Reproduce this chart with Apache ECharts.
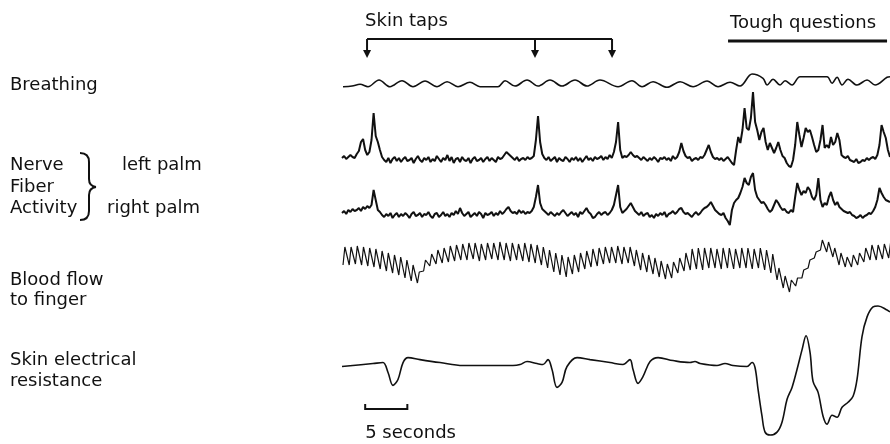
<!DOCTYPE html>
<html>
<head>
<meta charset="utf-8">
<script src="https://cdn.jsdelivr.net/npm/echarts@6/dist/echarts.min.js"></script>
<style>
html, body { margin: 0; padding: 0; background: #fff; }
#main { width: 890px; height: 444px; }
</style>
</head>
<body>
<div id="main"></div>
<script>
// time axis in seconds, traces in arbitrary units
var duration = 65;

// breathing: turning points [s], amplitude
var breathT = [0.12, 1.19, 2.14, 3.08, 4.39, 5.69, 7.12, 8.42, 9.85, 11.27, 12.46, 13.76, 15.18, 16.37, 18.51, 19.34,
  20.52, 21.95, 23.25, 24.67, 26.1, 27.64, 29.06, 30.6, 32.74, 34.4, 35.59, 36.89, 38.55, 40.1, 41.64, 43.3, 44.6,
  46.03, 47.21, 48.64, 49.94, 50.42, 51.13, 51.96, 52.55, 53.38, 54.33, 57.53, 58.13, 58.72, 59.31, 60.02, 61.09,
  62.28, 63.23, 64.65, 65];
var breathV = [0.3, 1, 2.7, 0.3, 7, 0.3, 6.3, 0.3, 6, 0.3, 5.3, 0.3, 4.7, 0.3, 0.3, 6.3,
  1, 7, 1, 7, 1, 7, 1, 7, 0.3, 6.3, 0.3, 5.3, -0.3, 5.3, 0.3, 6, 0.3,
  4.7, 1, 13, 8.7, 2, 7.7, 2, 6.3, 2, 10.3, 10.3, 3.7, 9.7, 2, 7.7, 2,
  7, 2, 9.7, 10.3];

// nerve fiber activity, sampled every 0.25 s
var nerveStep = 0.25;
var leftPalm = [
  2, 4, 1, 3, 5, 3, 2, 6, 9, 18,
  21, 10, 5, 8, 20, 47, 24, 18, 10, 3,
  0, -2, 2, -3, 1, 3, -1, 2, -2, 1,
  3, -1, 0, 2, -3, 1, 4, 0, -2, 2,
  0, 3, -2, 1, -1, 4, 1, -2, 2, 0,
  5, -1, 3, -3, 1, 2, -2, 3, 0, -1,
  2, -3, 1, 3, -1, 0, 2, -2, 1, 3,
  -1, 2, 0, -2, 3, 1, 2, 5, 8, 6,
  4, 2, 0, 3, -1, 1, 2, 0, 3, 1,
  2, 4, 20, 44, 18, 6, 2, 0, 3, -1,
  1, 3, -2, 2, 0, -1, 3, 1, -2, 2,
  0, 3, -1, 2, -2, 1, 4, 0, 2, -1,
  3, 1, 2, 4, 0, 3, 1, 5, 2, 8,
  18, 38, 10, 2, 4, 3, 5, 8, 5, 3,
  4, 2, 0, 3, 1, -1, 2, 0, 3, 1,
  -2, 2, 1, 3, 0, 2, -1, 4, 1, 3,
  8, 17, 9, 4, 2, 3, -1, 1, 2, 0,
  3, 2, 5, 10, 15, 8, 3, 1, 2, 0,
  2, -1, 1, 3, 0, -3, -5, 10, 23, 17,
  30, 52, 32, 30, 42, 68, 38, 30, 20, 28,
  32, 18, 10, 17, 12, 7, 12, 18, 10, 4,
  2, -3, -6, -7, 0, 15, 38, 25, 13, 22,
  32, 28, 30, 23, 15, 8, 10, 20, 35, 12,
  15, 12, 23, 15, 18, 27, 20, 5, 3, 2,
  4, 0, -1, -2, 1, -3, -2, 0, -1, 2,
  0, 2, 3, 1, 5, 15, 35, 28, 22, 10,
  3];
var rightPalm = [
  2, 4, 1, 5, 3, 6, 4, 5, 7, 4,
  8, 6, 9, 7, 10, 25, 15, 5, 3, 0,
  -2, 1, -1, 2, -3, 0, 2, -2, 1, -1,
  2, 0, -3, 1, 3, -1, 0, 2, -2, 1,
  0, 3, -1, -3, 1, 2, -2, 0, 3, -1,
  1, -2, 2, 0, 4, 1, 7, 2, -1, 1,
  3, -2, 0, 2, -1, 3, 1, -3, 2, 0,
  1, 3, -1, 2, 0, 4, 1, 3, 6, 8,
  4, 2, 3, 1, 5, 2, 4, 1, 3, 2,
  4, 8, 18, 30, 12, 6, 4, 2, 0, 3,
  1, -1, 2, 0, 3, 5, 2, -1, 1, 3,
  0, 2, -2, 3, 1, 4, 7, 3, 1, -3,
  -2, 1, 3, 0, 2, 3, 0, 2, 5, 10,
  20, 30, 8, 2, 4, 6, 9, 12, 8, 4,
  2, 0, 3, -1, 1, 2, -2, 0, -3, 1,
  -1, 2, 0, 3, -2, 1, 2, 4, 1, 3,
  6, 7, 3, 1, 2, 0, -2, 1, 3, 0,
  2, 5, 7, 8, 10, 13, 9, 5, 3, 1,
  0, 2, -3, -6, -10, 5, 12, 15, 17, 22,
  28, 37, 32, 30, 38, 42, 25, 18, 15, 12,
  13, 10, 6, 3, 5, 10, 15, 12, 8, 5,
  6, 3, 2, 5, 3, 18, 32, 25, 20, 24,
  22, 28, 25, 18, 15, 20, 37, 15, 8, 12,
  10, 18, 23, 15, 10, 13, 8, 6, 4, 3,
  2, 3, 0, -1, -3, -2, 0, -3, -1, 0,
  2, 1, 4, 8, 15, 27, 22, 18, 15, 14,
  13];

// blood flow to finger: one trough and one peak per heart beat
var beatStart = 0.12;
var beatPeriod = 0.7355;
var bloodPeak = [43, 43, 44, 43, 42, 41, 39, 37, 35, 33, 30, 25, 18, 30, 36, 40, 42, 44, 45, 46,
  47, 47, 46, 47, 47, 48, 47, 47, 46, 47, 46, 45, 43, 40, 37, 35, 33, 35, 37, 39,
  41, 42, 43, 43, 44, 43, 43, 40, 37, 35, 32, 29, 26, 28, 32, 37, 41, 42, 42, 42,
  41, 42, 42, 41, 42, 42, 41, 42, 40, 36, 22, 14, 10, 12, 20, 30, 38, 50, 48, 42,
  37, 33, 35, 37, 42, 45, 45, 46, 47];
var bloodTrough = [25, 25, 26, 25, 24, 23, 21, 19, 17, 15, 12, 9, 7, 19, 24, 26, 27, 28, 29, 30,
  30, 31, 29, 30, 31, 30, 30, 29, 30, 29, 28, 27, 25, 22, 18, 15, 13, 16, 18, 21,
  23, 24, 26, 27, 27, 26, 27, 24, 20, 18, 16, 13, 11, 12, 17, 19, 20, 21, 20, 22,
  22, 21, 22, 21, 22, 22, 21, 22, 20, 17, 10, 2, -2, 4, 12, 22, 32, 40, 38, 33,
  25, 23, 23, 25, 28, 30, 30, 31, 32];

// skin electrical resistance: turning points [s], level
var skinT = [0, 3.68, 4.86, 5.46, 6.05, 6.64, 7.24, 7.83, 9.25, 11.63, 14.35, 20.28, 21.12, 21.95, 23.13, 23.84,
  24.44, 24.91, 25.5, 26.1, 26.69, 27.88, 29.42, 31.79, 33.33, 34.16, 34.52, 35.11, 35.71, 36.54, 37.49, 39.26,
  41.28, 41.87, 42.47, 44.48, 45.43, 46.38, 48.04, 48.64, 48.99, 49.35, 49.82, 50.18, 50.77, 51.6, 52.19, 52.79,
  53.38, 53.97, 54.57, 55.04, 55.52, 55.87, 56.47, 57.06, 57.53, 58.13, 58.72, 59.31, 60.02, 60.62, 61.09, 61.68,
  62.28, 62.99, 63.58, 64.65, 65];
var skinV = [73, 76, 77, 67, 54, 60, 77, 82, 80, 77, 74, 74, 75, 78, 76, 75,
  80, 70, 52, 57, 73, 82, 80, 77, 75, 80, 70, 56, 63, 78, 82, 79,
  77, 78, 76, 74, 76, 74, 73, 77, 72, 50, 23, 7, 4, 7, 17, 40,
  52, 70, 90, 104, 87, 58, 47, 23, 15, 24, 22, 32, 37, 43, 60, 103,
  123, 133, 134, 130, 128];

// events
var tapTimes = [2.97, 22.89, 32.03];
var toughStart = 45.79, toughEnd = 64.65;
var scaleStart = 2.75, scaleSeconds = 5;

function pairs(ts, vs) {
  return ts.map(function (t, i) { return [t, vs[i]]; });
}
function sampled(vs, step) {
  return vs.map(function (v, i) { return [i * step, v]; });
}
function beats() {
  var out = [];
  bloodPeak.forEach(function (p, i) {
    var t0 = beatStart + i * beatPeriod;
    out.push([t0, bloodTrough[i]]);
    out.push([t0 + 0.3 * beatPeriod, p]);
  });
  return out;
}

var chart = echarts.init(document.getElementById('main'));

var grids = [
  { left: 342, right: 0, top: 73, height: 16 },
  { left: 342, right: 0, top: 90, height: 80 },
  { left: 342, right: 0, top: 170, height: 57 },
  { left: 342, right: 0, top: 238, height: 57 },
  { left: 342, right: 0, top: 300, height: 145 }
];
var yRanges = [[-2, 14], [-10, 70], [-12, 45], [-5, 52], [-5, 140]];

var xAxes = grids.map(function (g, i) {
  return { type: 'value', gridIndex: i, min: 0, max: duration, show: false };
});
var yAxes = yRanges.map(function (r, i) {
  return { type: 'value', gridIndex: i, min: r[0], max: r[1], show: false };
});

function trace(i, data, width, smooth) {
  return {
    type: 'line', xAxisIndex: i, yAxisIndex: i, data: data,
    showSymbol: false, smooth: smooth, silent: true,
    lineStyle: { color: '#111', width: width }
  };
}

var font = '18px "DejaVu Sans"';
function label(x, y, text) {
  return { type: 'text', x: x, y: y, silent: true,
    style: { text: text, font: font, fill: '#111', textVerticalAlign: 'middle' } };
}
function seg(shape, w) {
  return { type: 'line', silent: true, shape: shape, style: { stroke: '#111', lineWidth: w || 2 } };
}
function curve(shape) {
  return { type: 'bezierCurve', silent: true, shape: shape,
    style: { stroke: '#111', lineWidth: 2, fill: null } };
}

chart.setOption({
  animation: false,
  backgroundColor: '#fff',
  grid: grids,
  xAxis: xAxes,
  yAxis: yAxes,
  series: [
    trace(0, pairs(breathT, breathV), 1.6, 0.35),
    trace(1, sampled(leftPalm, nerveStep), 2, false),
    trace(2, sampled(rightPalm, nerveStep), 2, false),
    trace(3, beats(), 1.2, false),
    trace(4, pairs(skinT, skinV), 1.6, 0.35)
  ]
});

// annotations placed on the time axis
function px(t) { return chart.convertToPixel({ xAxisIndex: 0 }, t); }

var g = [
  label(10, 85, 'Breathing'),
  label(10, 165, 'Nerve'),
  label(10, 187, 'Fiber'),
  label(10, 208, 'Activity'),
  label(122, 165, 'left palm'),
  label(107, 208, 'right palm'),
  label(10, 280, 'Blood flow'),
  label(10, 300, 'to finger'),
  label(10, 360, 'Skin electrical'),
  label(10, 381, 'resistance'),
  label(px(tapTimes[0]) - 2, 21, 'Skin taps'),
  label(px(toughStart) + 2, 23, 'Tough questions'),
  label(px(scaleStart), 433, '5 seconds'),
  // brace joining the two palm traces
  curve({ x1: 80, y1: 153, x2: 89, y2: 162, cpx1: 89, cpy1: 153 }),
  seg({ x1: 89, y1: 162, x2: 89, y2: 179 }),
  curve({ x1: 89, y1: 179, x2: 96, y2: 187, cpx1: 89, cpy1: 186 }),
  curve({ x1: 96, y1: 187, x2: 89, y2: 195, cpx1: 89, cpy1: 188 }),
  seg({ x1: 89, y1: 195, x2: 89, y2: 211 }),
  curve({ x1: 89, y1: 211, x2: 80, y2: 220, cpx1: 89, cpy1: 220 })
];

var tapX = tapTimes.map(px);
g.push(seg({ x1: tapX[0], y1: 39, x2: tapX[2], y2: 39 }));
tapX.forEach(function (x) {
  g.push(seg({ x1: x, y1: 39, x2: x, y2: 52 }));
  g.push({ type: 'polygon', silent: true,
    shape: { points: [[x - 4, 50], [x + 4, 50], [x, 58]] }, style: { fill: '#111' } });
});

g.push(seg({ x1: px(toughStart), y1: 41, x2: px(toughEnd), y2: 41 }, 3));

var s0 = px(scaleStart), s1 = px(scaleStart + scaleSeconds);
g.push({ type: 'polyline', silent: true,
  shape: { points: [[s0, 404], [s0, 409], [s1, 409], [s1, 404]] },
  style: { stroke: '#111', lineWidth: 2, fill: null } });

chart.setOption({ graphic: g });
</script>
</body>
</html>
